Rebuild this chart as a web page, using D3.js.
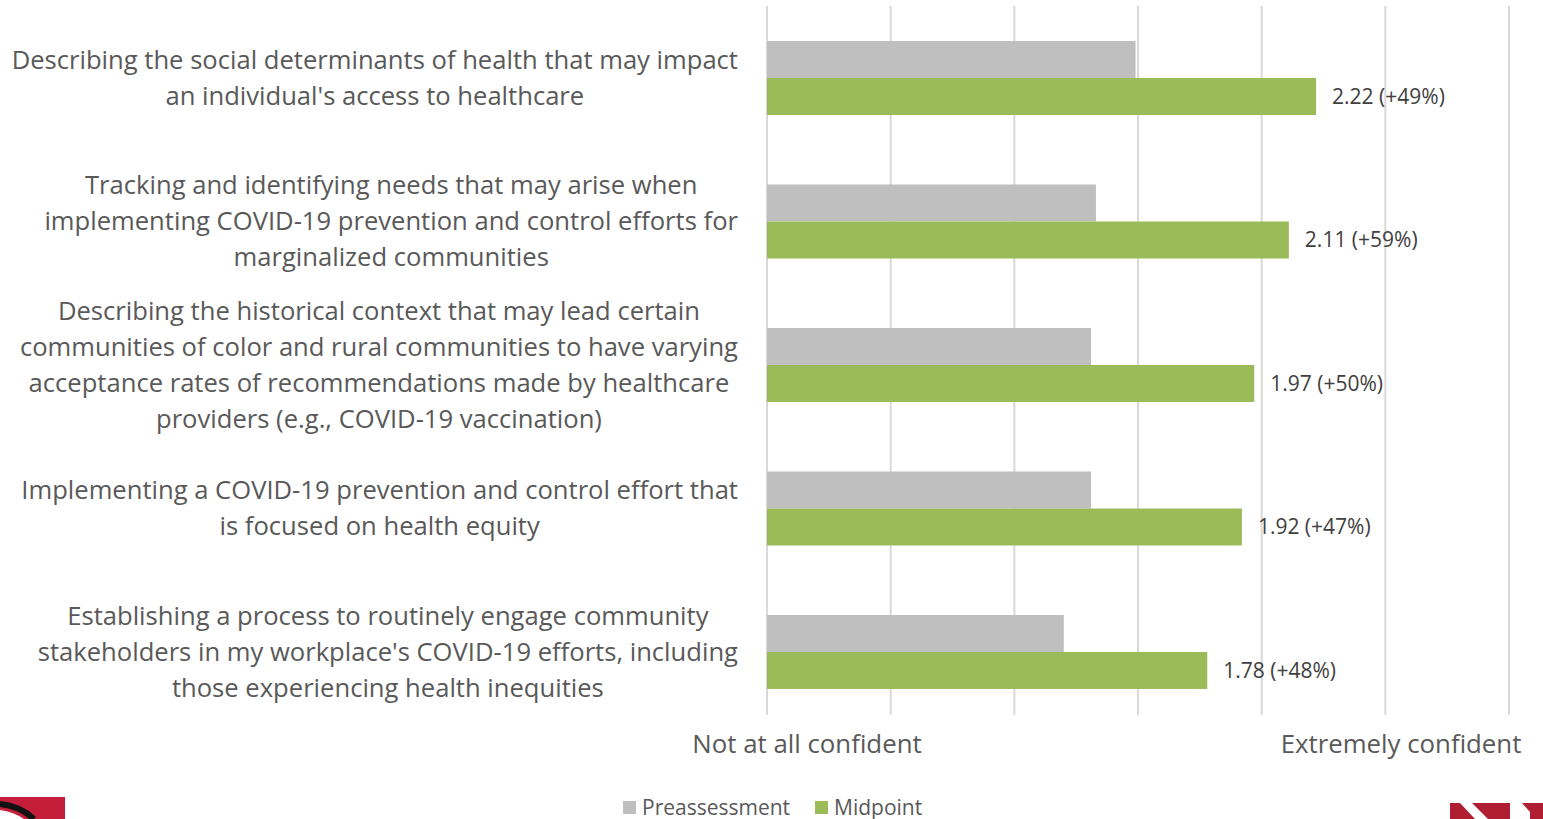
<!DOCTYPE html>
<html><head><meta charset="utf-8">
<script src="https://cdn.jsdelivr.net/npm/d3@7"></script>
<style>body{margin:0;background:#fff;overflow:hidden}svg{display:block}</style>
</head><body><svg id="c" width="1543" height="819"></svg>
<script>
const categories = [
  ["Describing the social determinants of health that may impact","an individual's access to healthcare"],
  ["Tracking and identifying needs that may arise when","implementing COVID-19 prevention and control efforts for","marginalized communities"],
  ["Describing the historical context that may lead certain","communities of color and rural communities to have varying","acceptance rates of recommendations made by healthcare","providers (e.g., COVID-19 vaccination)"],
  ["Implementing a COVID-19 prevention and control effort that","is focused on health equity"],
  ["Establishing a process to routinely engage community","stakeholders in my workplace's COVID-19 efforts, including","those experiencing health inequities"]
];
const preValues = [1.49, 1.33, 1.31, 1.31, 1.20];
const midValues = [2.22, 2.11, 1.97, 1.92, 1.78];
const changeLabels = ["+49%", "+59%", "+50%", "+47%", "+48%"];
const seriesNames = ["Preassessment", "Midpoint"];
const axisEndLabels = ["Not at all confident", "Extremely confident"];
const xTicks = [0, 0.5, 1, 1.5, 2, 2.5, 3];

const svg = d3.select("#c");
const font = "'Open Sans', sans-serif";
const colors = ["#BFBFBF", "#9BBB59"];

const x = d3.scaleLinear().domain([0, 3]).range([767, 1509]);
const y = d3.scaleBand().domain(d3.range(categories.length)).range([6.25, 723.75]).paddingInner(0).paddingOuter(0);
const barH = 37;

// gridlines
svg.append("g").selectAll("line").data(xTicks).join("line")
  .attr("x1", d => x(d)).attr("x2", d => x(d))
  .attr("y1", 6).attr("y2", 715)
  .attr("stroke", "#d9d9d9").attr("stroke-width", 2);

// bars
const g = svg.append("g");
categories.forEach((c, i) => {
  const cy = y(i) + y.bandwidth() / 2;
  g.append("rect").attr("x", x(0)).attr("y", cy - barH).attr("width", x(preValues[i]) - x(0)).attr("height", barH).attr("fill", colors[0]);
  g.append("rect").attr("x", x(0)).attr("y", cy).attr("width", x(midValues[i]) - x(0)).attr("height", barH).attr("fill", colors[1]);
  g.append("text").attr("x", x(midValues[i]) + 16).attr("y", cy + barH / 2).attr("dy", "0.35em")
    .attr("font-family", font).attr("font-size", 21).attr("fill", "#404040")
    .text(midValues[i].toFixed(2) + " (" + changeLabels[i] + ")");
  // category labels
  const t = svg.append("text").attr("font-family", font).attr("font-size", 25.6).attr("fill", "#595959").attr("text-anchor", "middle");
  const n = c.length;
  const spans = c.map((line, k) => t.append("tspan").attr("y", cy + (k - (n - 1) / 2) * 36).attr("dy", "0.35em").text(line));
  let maxW = 0;
  spans.forEach(s => { maxW = Math.max(maxW, s.node().getComputedTextLength()); });
  const cx = 738 - maxW / 2;
  spans.forEach(s => s.attr("x", cx));
});

// axis end labels
svg.append("text").attr("x", 807).attr("y", 744).attr("dy", "0.35em").attr("text-anchor", "middle")
  .attr("font-family", font).attr("font-size", 25.8).attr("fill", "#595959").text(axisEndLabels[0]);
svg.append("text").attr("x", 1401).attr("y", 744).attr("dy", "0.35em").attr("text-anchor", "middle")
  .attr("font-family", font).attr("font-size", 25.8).attr("fill", "#595959").text(axisEndLabels[1]);

// legend
const legX = [623, 815];
seriesNames.forEach((s, i) => {
  svg.append("rect").attr("x", legX[i]).attr("y", 801).attr("width", 13).attr("height", 13).attr("fill", colors[i]);
  svg.append("text").attr("x", legX[i] + 19).attr("y", 807.5).attr("dy", "0.35em")
    .attr("font-family", font).attr("font-size", 21).attr("fill", "#595959").text(s);
});

// logos (decorative)
svg.append("rect").attr("x", 0).attr("y", 797).attr("width", 65).attr("height", 22).attr("fill", "#C41E3A");
svg.append("path").attr("d", "M0,804 Q20,806 34,819").attr("fill", "none").attr("stroke", "#111").attr("stroke-width", 6);
svg.append("path").attr("d", "M0,810 Q14,812 24,819 L0,819 Z").attr("fill", "#fff");
svg.append("path").attr("d", "M1450,803 L1460,803 L1475,819 L1450,819 Z").attr("fill", "#B01E33");
svg.append("path").attr("d", "M1472,803 L1510,803 L1510,819 L1488,819 Z").attr("fill", "#B01E33");
svg.append("path").attr("d", "M1522,803 L1543,803 L1543,819 L1530,819 L1530,812 Z").attr("fill", "#B01E33");
</script></body></html>
